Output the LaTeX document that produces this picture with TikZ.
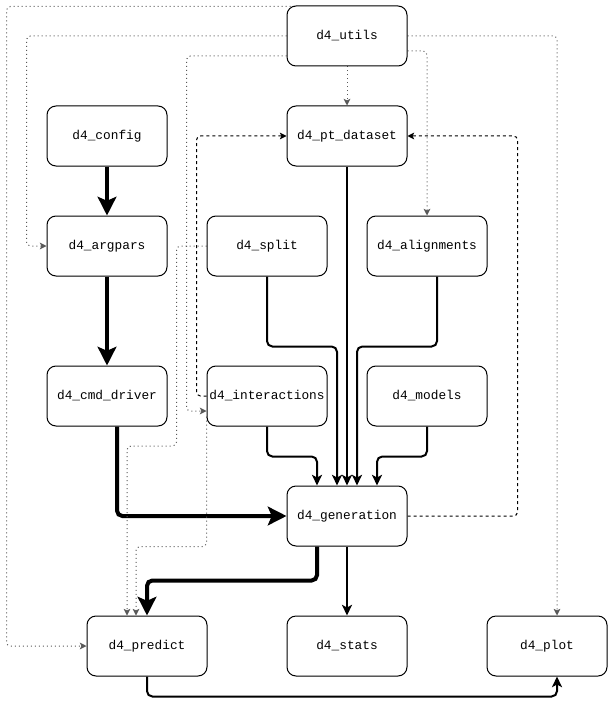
\documentclass[tikz,border=0pt]{standalone}
\usepackage{fontspec}
\setmonofont{Liberation Mono}
\usetikzlibrary{arrows.meta,calc,backgrounds}
\begin{document}
\begin{tikzpicture}[x=0.75pt,y=-0.75pt,
  box/.style={draw, line width=0.75pt, rounded corners=6.75pt, fill=white,
    minimum width=90pt, minimum height=45pt, inner sep=0pt,
    font=\ttfamily\fontsize{9.6}{11}\selectfont},
  boldedge/.style={line width=3pt, rounded corners=4pt,
    -{Stealth[length=14pt,width=14pt,inset=3pt]}},
  normedge/.style={line width=1.5pt, rounded corners=4pt,
    -{Stealth[length=8pt,width=7.5pt,inset=2pt]}},
  dotedge/.style={line width=0.75pt, black!65, rounded corners=3pt,
    dash pattern=on 0.75pt off 2.25pt,
    -{Stealth[length=5pt,width=5pt,inset=1.2pt]}},
  dashedge/.style={line width=0.75pt, rounded corners=3pt,
    dash pattern=on 2.25pt off 2.25pt,
    -{Stealth[length=5pt,width=5pt,inset=1.2pt]}}
]
\useasboundingbox (0,0) rectangle (609,706);

\node[box] (utils)   at (347,36)  {d4\_utils};
\node[box] (config)  at (107,136) {d4\_config};
\node[box] (pt)      at (347,136) {d4\_pt\_dataset};
\node[box] (argpars) at (107,246) {d4\_argpars};
\node[box] (split)   at (267,246) {d4\_split};
\node[box] (align)   at (427,246) {d4\_alignments};
\node[box] (cmd)     at (107,396) {d4\_cmd\_driver};
\node[box] (inter)   at (267,396) {d4\_interactions};
\node[box] (models)  at (427,396) {d4\_models};
\node[box] (gen)     at (347,516) {d4\_generation};
\node[box] (predict) at (147,646) {d4\_predict};
\node[box] (stats)   at (347,646) {d4\_stats};
\node[box] (plot)    at (547,646) {d4\_plot};

\begin{pgfonlayer}{background}
% thick edges
\draw[boldedge] (config.south) -- (argpars.north);
\draw[boldedge] (argpars.south) -- (cmd.north);
\draw[boldedge] ($(cmd.south)+(10,0)$) |- (gen.west);
\draw[boldedge] ($(gen.south)+(-30,0)$) -- ++(0,34) -| (predict.north);
% normal edges
\draw[normedge] (gen.south) -- (stats.north);
\draw[normedge] (predict.south) -- ++(0,20) -| ($(plot.south)+(10,0)$);
\draw[normedge] (pt.south) -- (gen.north);
\draw[normedge] (split.south) -- ++(0,70) -| ($(gen.north)+(-10,0)$);
\draw[normedge] ($(align.south)+(10,0)$) -- ++(0,70) -| ($(gen.north)+(10,0)$);
\draw[normedge] (inter.south) -- ++(0,30) -| ($(gen.north)+(-30,0)$);
\draw[normedge] (models.south) -- ++(0,30) -| ($(gen.north)+(30,0)$);
% dotted edges
\draw[dotedge] (utils.south) -- (pt.north);
\draw[dotedge] ($(utils.east)+(0,15)$) -| (align.north);
\draw[dotedge] (utils.east) -| ($(plot.north)+(10,0)$);
\draw[dotedge] (utils.west) -- ++(-260,0) |- (argpars.west);
\draw[dotedge] ($(utils.west)+(0,20)$) -- ++(-100,0) |- ($(inter.west)+(0,15)$);
\draw[dotedge] ($(utils.north west)+(8,1)$) -- ++(-288,0) |- (predict.west);
\draw[dotedge] (split.west) -- ++(-30,0) -- ++(0,200) -| ($(predict.north)+(-20,0)$);
\draw[dotedge] ($(inter.south west)+(0,-10)$) -- ++(0,130) -| ($(predict.north)+(-11,0)$);
% dashed edges
\draw[dashedge] (inter.west) -- ++(-10,0) |- (pt.west);
\draw[dashedge] (gen.east) -- ++(110,0) |- (pt.east);
\end{pgfonlayer}
\end{tikzpicture}
\end{document}
